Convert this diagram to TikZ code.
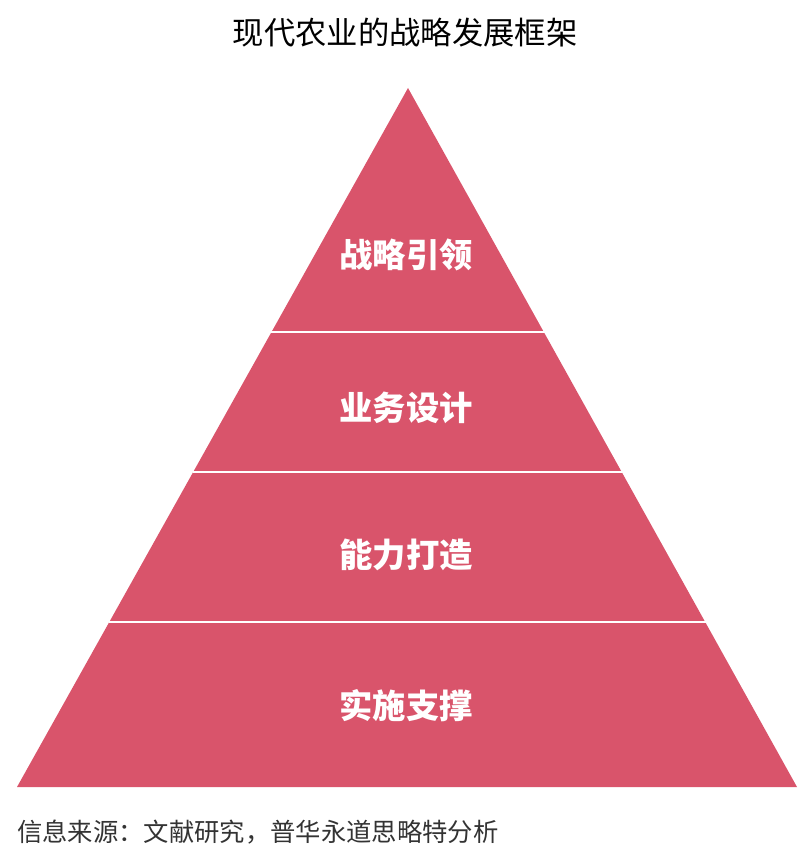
\documentclass[tikz,border=0pt]{standalone}
\usepackage{fontspec}
\newfontfamily\cjk{Noto Sans CJK SC}
\usepackage{tikz}
\definecolor{pyrred}{HTML}{D9546B}
\tikzset{
    layer text/.style={text=white, font=\cjk\bfseries\fontsize{25}{28}\selectfont}, % 每层文字
    divider/.style={white, line width=2.2pt} % 层间分隔线
}
\begin{document}
\begin{tikzpicture}[x=0.75pt, y=-0.75pt]
    \useasboundingbox (0,0) rectangle (800,862);
    \fill[pyrred] (408,88) -- (797,787) -- (17,787) -- cycle;
    \draw[divider] (271,332) -- (545,332);
    \draw[divider] (193,472) -- (623,472);
    \draw[divider] (109,622) -- (707,622);
    \node (title) at (405,33) {\cjk\fontsize{23.5}{26}\selectfont 现代农业的战略发展框架};
    \node[layer text] (lead) at (406,255) {战略引领};
    \node[layer text] (design) at (406,408) {业务设计};
    \node[layer text] (build) at (406,555) {能力打造};
    \node[layer text] (support) at (406,706) {实施支撑};
    \node[anchor=west, inner sep=0pt, text=black!80] (source) at (17,832) {\cjk\fontsize{19}{22}\selectfont 信息来源：文献研究，普华永道思略特分析};
\end{tikzpicture}
\end{document}
